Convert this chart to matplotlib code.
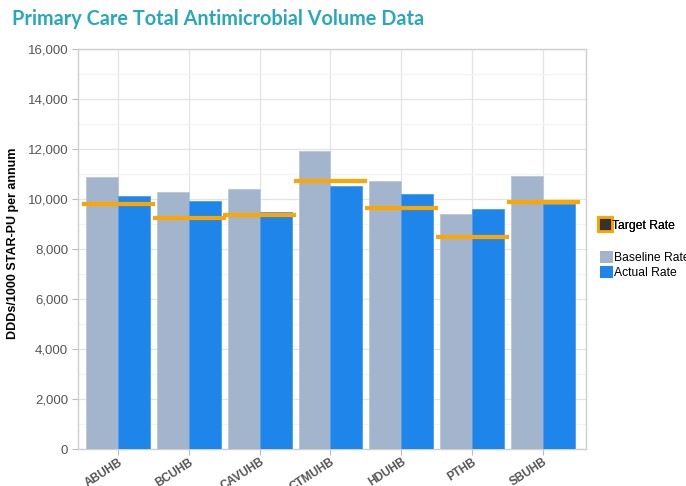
import numpy as np
import matplotlib.pyplot as plt
from matplotlib.lines import Line2D
from matplotlib.patches import Patch
from matplotlib.ticker import MultipleLocator, FuncFormatter

# health board figures, DDDs/1000 STAR-PU per annum
boards = ['ABUHB', 'BCUHB', 'CAVUHB', 'CTMUHB', 'HDUHB', 'PTHB', 'SBUHB']
baseline_rate = [10870, 10270, 10400, 11910, 10730, 9410, 10930]
actual_rate = [10130, 9920, 9490, 10530, 10190, 9580, 9800]
target_rate = [9790, 9250, 9360, 10720, 9650, 8480, 9860]

BASE_COL = '#a2b5cd'
ACT_COL = '#1e86ea'
TGT_COL = '#ffa500'
GRID_COL = '#e4e4e4'

plt.rcParams['font.family'] = ['Liberation Sans', 'DejaVu Sans']

fig = plt.figure(figsize=(6.86, 4.86), dpi=100)
ax = fig.add_axes([78 / 686, 1 - 449 / 486, 508 / 686, 400 / 486])

x = np.arange(len(boards))
w = 0.45
ax.bar(x - w / 2, baseline_rate, width=w, color=BASE_COL,
       edgecolor='#b8c7da', linewidth=0.6, zorder=3)
ax.bar(x + w / 2, actual_rate, width=w, color=ACT_COL,
       edgecolor='#4a9cf0', linewidth=0.6, zorder=3)
ax.hlines(target_rate, x - 0.51, x + 0.52, colors=TGT_COL,
          linewidth=3.0, zorder=4)

ax.set_xlim(-0.563, 6.606)
ax.set_ylim(0, 16000)
ax.yaxis.set_major_locator(MultipleLocator(2000))
ax.yaxis.set_minor_locator(MultipleLocator(1000))
ax.yaxis.set_major_formatter(FuncFormatter(lambda v, p: f'{int(v):,}'))
ax.set_xticks(x)
ax.set_xticklabels(boards, rotation=33, ha='right', va='top',
                   rotation_mode='anchor', fontweight='bold',
                   color='#555555', fontsize=8.5)

ax.grid(True, which='major', color=GRID_COL, linewidth=0.9, zorder=0)
ax.grid(True, which='minor', axis='y', color='#f3f3f3', linewidth=0.9, zorder=0)
ax.set_axisbelow(True)

for s in ax.spines.values():
    s.set_color('#cfcfcf')
    s.set_linewidth(1.0)
ax.tick_params(axis='y', which='major', length=4, color='#bbbbbb',
               labelcolor='#555555', labelsize=9.5, pad=3)
ax.tick_params(axis='y', which='minor', length=0)
ax.tick_params(axis='x', length=4, color='#bbbbbb', pad=1)

ax.set_ylabel('DDDs/1000 STAR-PU per annum', fontsize=9,
              fontweight='bold')
ax.yaxis.set_label_coords(19 / 686, 0.5, transform=fig.transFigure)

fig.text(12 / 686, 1 - 19 / 486, 'Primary Care Total Antimicrobial Volume Data',
         fontsize=14.3, fontweight='bold', color='#29a8bb',
         family=['Lato', 'DejaVu Sans'], va='center', ha='left')

# target marker sits on its own, the two bar series below it
target_handle = Line2D([], [], linestyle='none', marker='s', markersize=10,
                       markerfacecolor='#333333', markeredgecolor=TGT_COL,
                       markeredgewidth=2)
leg_t = fig.legend([target_handle], ['Target Rate'], loc='center left',
                   bbox_to_anchor=(599 / 686, 1 - 226 / 486), frameon=False,
                   fontsize=8.7, handlelength=1.0, handleheight=1.0,
                   handletextpad=0.1, borderpad=0, borderaxespad=0)

bar_handles = [Patch(facecolor=BASE_COL, edgecolor='none'),
               Patch(facecolor=ACT_COL, edgecolor='none')]
fig.legend(bar_handles, ['Baseline Rate', 'Actual Rate'], loc='upper left',
           bbox_to_anchor=(600 / 686, 1 - 251 / 486), frameon=False,
           fontsize=8.7, handlelength=1.05, handleheight=1.2,
           handletextpad=0.1, labelspacing=0.15, borderpad=0,
           borderaxespad=0)
fig.add_artist(leg_t)

fig.savefig('out.png', dpi=100)
